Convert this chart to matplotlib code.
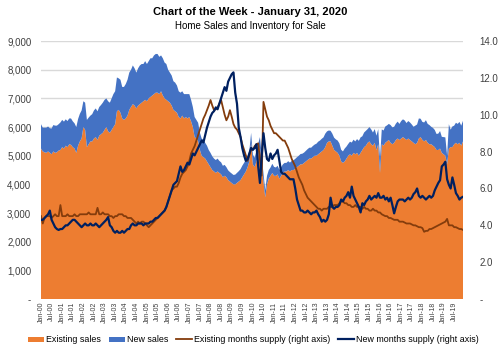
import matplotlib.pyplot as plt
import numpy as np
from matplotlib.ticker import FuncFormatter

# monthly data, Jan-2000 .. Dec-2019 (thousands, SAAR / months supply)
existing_sales = [
    5250, 5150, 5120, 5100, 5150, 5100, 5050, 5150, 5100, 5120, 5180, 5200,
    5300, 5250, 5350, 5300, 5400, 5380, 5300, 5250, 5100, 5350, 5500, 5600,
    6000, 5900, 5300, 5400, 5500, 5500, 5600, 5650, 5550, 5700, 5750, 5800,
    5900, 6000, 5850, 5800, 5900, 6000, 6100, 6550, 6600, 6500, 6300, 6250,
    6300, 6400, 6600, 6700, 6800, 6750, 6650, 6750, 6800, 6850, 6900, 6950,
    6900, 7000, 7050, 7100, 7150, 7200, 7200, 7150, 7250, 7100, 7000, 6950,
    6900, 6850, 6750, 6600, 6550, 6500, 6350, 6300, 6400, 6300, 6350, 6300,
    6350, 6200, 6000, 5650, 5600, 5500, 5200, 5000, 4950, 4900, 4800, 4700,
    4600, 4500, 4450, 4400, 4450, 4400, 4350, 4250, 4300, 4250, 4150, 4100,
    4050, 4000, 4000, 4050, 4100, 4150, 4250, 4350, 4450, 4600, 4800, 5450,
    4700, 4600, 4800, 5000, 5300, 4700, 4100, 3550, 4000, 4200, 4300, 4400,
    4300, 4300, 4350, 4200, 4300, 4400, 4450, 4450, 4500, 4450, 4500, 4500,
    4550, 4600, 4650, 4700, 4700, 4750, 4800, 4850, 4900, 4900, 4950, 5000,
    5000, 5050, 5100, 5150, 5200, 5300, 5450, 5500, 5500, 5350, 5200, 5150,
    5100, 5000, 4800, 4750, 4800, 4900, 5000, 5050, 5000, 5100, 5050, 5100,
    5000, 5100, 5200, 5300, 5350, 5450, 5500, 5400, 5350, 5450, 5200, 5400,
    4400, 5400, 5350, 5450, 5500, 5550, 5450, 5400, 5450, 5550, 5600, 5550,
    5600, 5650, 5600, 5550, 5600, 5550, 5500, 5450, 5400, 5450, 5600, 5650,
    5550, 5500, 5550, 5450, 5400, 5400, 5350, 5300, 5200, 5200, 5250, 5100,
    5050, 5000, 4700, 5250, 5300, 5300, 5400, 5450, 5400, 5450, 5350, 5500,
]
new_sales = [
    850, 830, 860, 880, 870, 860, 900, 920, 950, 930, 920, 960,
    950, 940, 920, 910, 900, 920, 900, 880, 900, 930, 960, 980,
    900, 950, 950, 930, 900, 950, 980, 1000, 1000, 1000, 1020, 1050,
    1050, 1000, 1050, 1050, 1100, 1150, 1150, 1180, 1100, 1150, 1100, 1150,
    1200, 1250, 1300, 1300, 1350, 1300, 1250, 1300, 1350, 1350, 1300, 1350,
    1300, 1300, 1350, 1300, 1350, 1350, 1350, 1300, 1250, 1300, 1250, 1250,
    1100, 1050, 1050, 1000, 1000, 950, 900, 900, 850, 850, 800, 850,
    800, 750, 700, 700, 650, 650, 600, 600, 600, 550, 550, 500,
    500, 480, 450, 450, 450, 420, 420, 400, 380, 350, 340, 330,
    330, 330, 340, 350, 360, 380, 400, 400, 400, 380, 370, 350,
    340, 330, 380, 420, 350, 300, 280, 250, 300, 300, 290, 320,
    310, 290, 300, 310, 300, 300, 300, 300, 310, 310, 320, 340,
    340, 350, 350, 360, 370, 360, 370, 380, 380, 380, 390, 390,
    420, 440, 430, 440, 440, 470, 400, 380, 370, 420, 430, 420,
    430, 430, 410, 400, 450, 420, 410, 440, 460, 460, 450, 480,
    520, 540, 480, 510, 520, 480, 500, 520, 460, 480, 500, 530,
    500, 520, 530, 570, 560, 560, 620, 590, 560, 570, 590, 560,
    610, 620, 630, 590, 610, 610, 590, 560, 650, 640, 700, 640,
    630, 660, 690, 660, 670, 610, 620, 600, 560, 570, 610, 560,
    600, 640, 300, 850, 610, 720, 650, 700, 710, 730, 700, 720,
]
existing_supply = [
    4.5, 4.1, 4.4, 4.5, 4.5, 4.5, 4.4, 4.5, 4.6, 4.5, 4.5, 5.1,
    4.5, 4.5, 4.5, 4.6, 4.5, 4.5, 4.5, 4.6, 4.5, 4.5, 4.6, 4.6,
    4.6, 4.6, 4.6, 4.7, 4.6, 4.6, 4.6, 4.6, 4.95, 4.6, 4.6, 4.7,
    4.6, 4.6, 4.6, 4.5, 4.5, 4.4, 4.5, 4.5, 4.6, 4.6, 4.6, 4.5,
    4.5, 4.4, 4.4, 4.4, 4.3, 4.2, 4.1, 4.2, 4.1, 4.2, 4.2, 4.1,
    4.0, 3.9, 4.0, 4.1, 4.2, 4.3, 4.4, 4.5, 4.6, 4.7, 4.8, 5.0,
    5.3, 5.6, 5.9, 6.0, 6.1, 6.1, 6.3, 6.6, 6.8, 6.9, 7.0, 7.2,
    7.5, 7.9, 8.1, 8.3, 8.6, 8.9, 9.2, 9.5, 9.8, 10.0, 10.25, 10.5,
    10.8, 10.5, 10.25, 10.3, 10.4, 10.6, 10.8, 10.4, 10.0, 9.7, 9.9, 10.25,
    9.9, 9.5, 9.3, 9.2, 9.0, 8.8, 8.4, 8.1, 7.8, 7.5, 7.8, 8.1,
    8.1, 8.3, 8.4, 8.45, 7.6, 6.7, 10.7, 10.3, 9.9, 9.7, 9.4, 9.2,
    9.0, 9.0, 8.9, 8.8, 8.7, 8.6, 8.6, 8.4, 8.2, 7.9, 7.6, 7.4,
    7.2, 6.9, 6.6, 6.4, 6.2, 5.9, 5.7, 5.5, 5.4, 5.3, 5.2, 5.1,
    5.0, 4.9, 4.9, 4.8, 4.9, 4.9, 4.9, 5.0, 5.0, 5.0, 5.1, 5.1,
    5.1, 5.2, 5.3, 5.3, 5.2, 5.2, 5.1, 5.1, 5.0, 5.0, 5.1, 5.0,
    5.0, 5.0, 4.9, 5.0, 4.9, 4.9, 4.8, 4.8, 4.9, 4.8, 4.8, 4.7,
    4.7, 4.6, 4.55, 4.5, 4.5, 4.4, 4.4, 4.35, 4.3, 4.3, 4.3, 4.2,
    4.2, 4.2, 4.15, 4.1, 4.1, 4.1, 4.05, 4.0, 4.0, 3.95, 3.9, 3.9,
    3.85, 3.65, 3.7, 3.7, 3.8, 3.8, 3.85, 3.9, 3.95, 4.0, 4.05, 4.1,
    4.15, 4.2, 4.35, 4.0, 4.0, 4.0, 3.9, 3.9, 3.85, 3.8, 3.8, 3.75,
]
new_supply = [
    4.3, 4.3, 4.4, 4.5, 4.6, 4.8, 4.3, 4.1, 3.9, 3.8, 3.75, 3.8,
    3.8, 3.9, 4.0, 4.0, 4.1, 4.2, 4.3, 4.3, 4.2, 4.1, 4.0, 3.9,
    4.0, 4.1, 4.0, 4.0, 4.1, 4.0, 4.0, 4.1, 4.0, 3.9, 4.0, 4.1,
    4.2, 4.3, 4.45, 4.0, 3.9, 3.7, 3.6, 3.7, 3.6, 3.6, 3.7, 3.6,
    3.7, 3.8, 3.8, 4.0, 4.1, 4.0, 4.0, 4.1, 4.1, 4.1, 4.0, 4.1,
    4.1, 4.1, 4.2, 4.2, 4.3, 4.4, 4.4, 4.5, 4.6, 4.7, 4.8, 5.0,
    5.3, 5.6, 5.9, 6.2, 6.3, 6.4, 6.8, 7.2, 6.9, 7.0, 7.2, 7.4,
    7.3, 7.6, 7.9, 7.8, 8.0, 8.2, 8.4, 8.6, 8.5, 8.9, 9.3, 9.6,
    9.9, 10.1, 10.2, 10.4, 10.3, 10.6, 10.9, 11.2, 11.5, 11.3, 11.8, 12.0,
    12.2, 12.3, 11.2, 10.6, 9.3, 8.8, 8.2, 7.8, 7.5, 7.6, 7.9, 8.2,
    8.1, 8.2, 8.4, 7.2, 6.3, 7.8, 9.0, 8.2, 7.6, 7.5, 7.9, 7.6,
    7.8, 7.9, 8.1, 7.5, 6.9, 6.8, 6.8, 6.7, 6.6, 6.5, 6.5, 6.5,
    6.0, 5.4, 5.1, 4.8, 4.8, 4.7, 4.7, 4.8, 4.7, 4.6, 4.7, 4.7,
    4.8, 4.6, 4.45, 4.2, 4.3, 4.2, 4.3, 4.6, 5.5, 5.0, 4.9, 5.0,
    5.0, 5.1, 5.4, 5.3, 5.5, 5.6, 5.8, 5.5, 6.1, 5.6, 5.4, 5.2,
    5.0, 4.7, 5.2, 5.1, 5.3, 5.4, 5.6, 5.4, 5.5, 5.6, 5.5, 5.75,
    5.5, 5.5, 5.6, 5.4, 5.5, 5.3, 5.5, 5.1, 4.65, 5.0, 5.3, 5.4,
    5.4, 5.4, 5.3, 5.4, 5.5, 5.4, 5.5, 5.7, 5.8, 6.0, 5.6, 5.5,
    5.6, 5.5, 5.4, 5.5, 5.6, 5.5, 5.6, 5.9, 6.1, 6.3, 6.45, 7.2,
    7.3, 7.45, 6.5, 6.2, 6.0, 6.6, 6.2, 5.75, 5.6, 5.4, 5.5, 5.55,
]
tick_labels = []
for yr in range(0, 20):
    tick_labels += ["Jan-%02d" % yr, "Jul-%02d" % yr]

plt.rcParams['font.family'] = ['Liberation Sans', 'DejaVu Sans']

x = np.arange(len(existing_sales))
fig = plt.figure(figsize=(5, 3.51), dpi=100)
ax = fig.add_axes([0.082, 0.148, 0.844, 0.735])

ax.stackplot(x, existing_sales, new_sales, colors=["#ED7D31", "#4472C4"],
             labels=["Existing sales", "New sales"], zorder=2)
ax.set_ylim(0, 9000)
ax.set_xlim(0, len(x) - 1)
ax.set_yticks(range(0, 9001, 1000))
ax.yaxis.set_major_formatter(FuncFormatter(lambda v, p: "-" if v == 0 else "{:,.0f}".format(v)))
ax.grid(axis="y", color="#D9D9D9", lw=1, zorder=0)
ax.set_axisbelow(True)
ax.set_xticks(np.arange(0, len(x), 6))
ax.set_xticklabels(tick_labels, rotation=90, fontsize=5)
ax.tick_params(axis="both", length=0, colors="#404040")
ax.tick_params(axis="y", labelsize=7, pad=7)
ax.tick_params(axis="x", pad=2)
for s in ax.spines.values():
    s.set_visible(False)

ax2 = ax.twinx()
l1, = ax2.plot(x, existing_supply, color="#843C0C", lw=1.3, label="Existing months supply (right axis)")
l2, = ax2.plot(x, new_supply, color="#002060", lw=1.6, label="New months supply (right axis)")
ax2.set_ylim(0, 14)
ax2.set_yticks(np.arange(0, 14.1, 2))
ax2.yaxis.set_major_formatter(FuncFormatter(lambda v, p: "-" if v == 0 else "%.1f" % v))
ax2.tick_params(axis="y", length=0, labelsize=7, pad=12, colors="#404040")
for s in ax2.spines.values():
    s.set_visible(False)

h1, lab1 = ax.get_legend_handles_labels()
fig.legend(h1 + [l1, l2], lab1 + [l1.get_label(), l2.get_label()], loc="center",
           bbox_to_anchor=(0.507, 0.032), ncol=4, frameon=False, fontsize=6.4,
           handlelength=1.8, handletextpad=0.2, columnspacing=0.9, handleheight=0.5)

fig.text(0.5, 0.965, "Chart of the Week - January 31, 2020", ha="center", va="center",
         fontsize=8, fontweight="bold")
fig.text(0.5, 0.925, "Home Sales and Inventory for Sale", ha="center", va="center", fontsize=7)

fig.savefig("out.png", dpi=100)
